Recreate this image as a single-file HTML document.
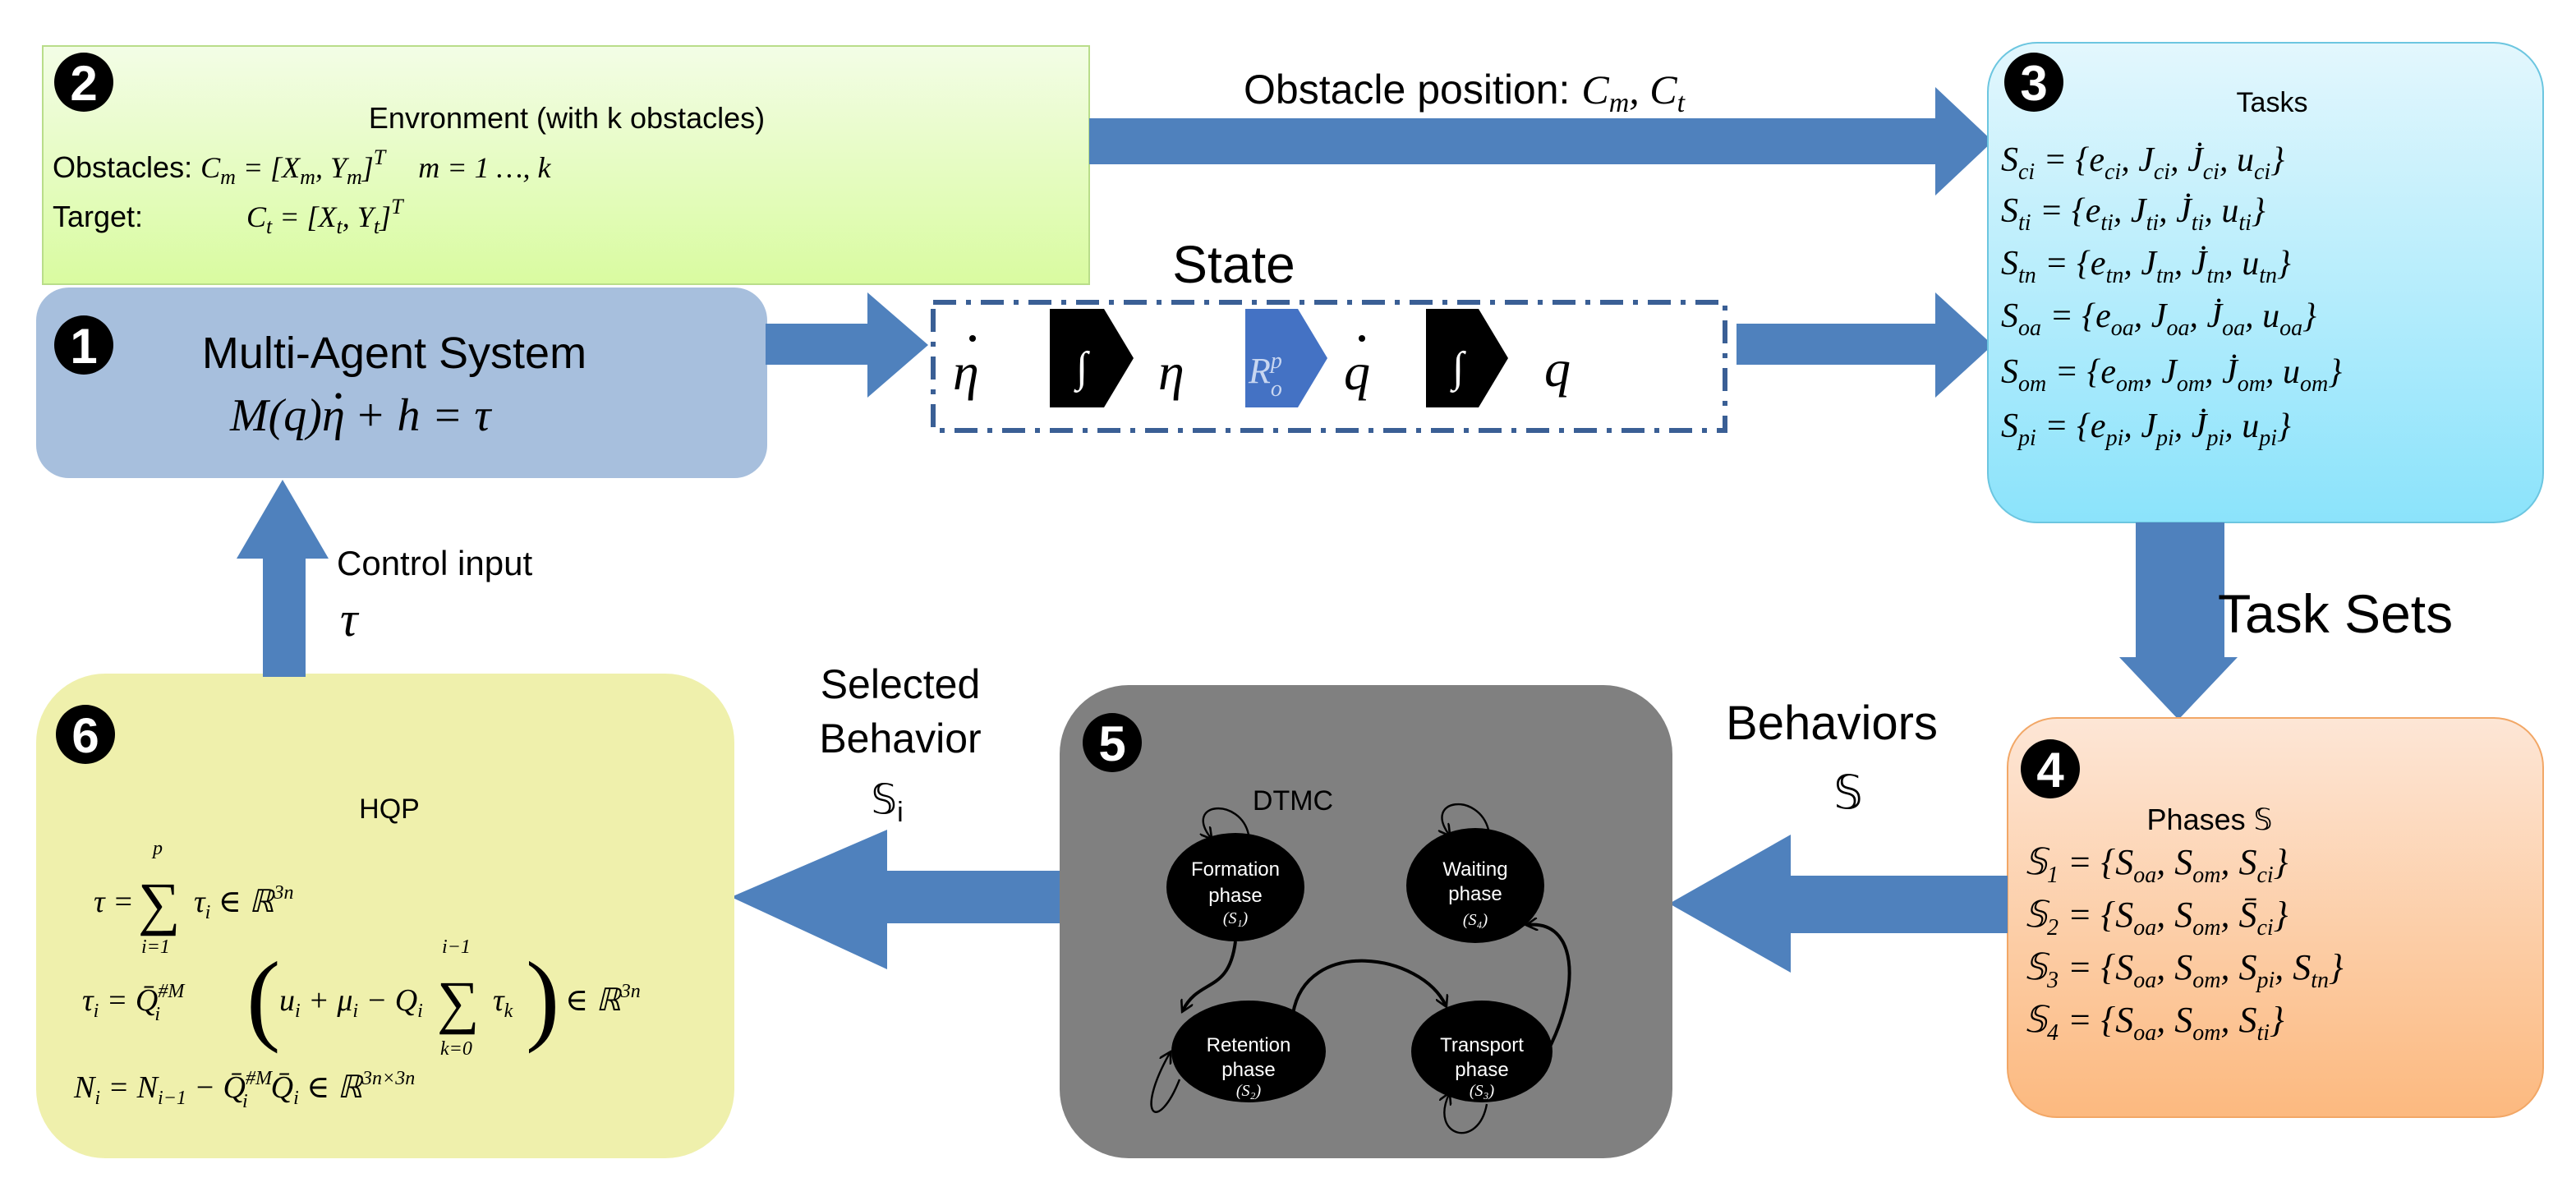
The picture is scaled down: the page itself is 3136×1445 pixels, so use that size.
<!DOCTYPE html>
<html><head><meta charset="utf-8"><style>
html,body{margin:0;padding:0;background:#fff;}
svg{display:block;}
.s{font-family:"Liberation Sans","DejaVu Sans",sans-serif;}
.m{font-family:"Liberation Serif","DejaVu Serif",serif;font-style:italic;}
.n{font-family:"Liberation Sans",sans-serif;font-weight:bold;fill:#fff;}
</style></head><body>
<svg width="3136" height="1445" viewBox="0 0 1568 722.5" xmlns="http://www.w3.org/2000/svg">
<defs>
<linearGradient id="g2" x1="0" y1="0" x2="0" y2="1"><stop offset="0" stop-color="#f3fde6"/><stop offset="1" stop-color="#d9fba0"/></linearGradient>
<linearGradient id="g3" x1="0" y1="0" x2="0" y2="1"><stop offset="0" stop-color="#e3f7fd"/><stop offset="1" stop-color="#8be3fb"/></linearGradient>
<linearGradient id="g4" x1="0" y1="0" x2="0" y2="1"><stop offset="0" stop-color="#fde6d6"/><stop offset="1" stop-color="#fcb97f"/></linearGradient>
<marker id="ah" markerWidth="8" markerHeight="8" refX="6" refY="4" orient="auto" markerUnits="userSpaceOnUse"><path d="M0,0 L7,4 L0,8" fill="none" stroke="#000" stroke-width="1.3"/></marker>
</defs>

<!-- Box 2 -->
<rect x="26" y="28" width="637" height="145" fill="url(#g2)" stroke="#b9dd8a" stroke-width="1"/>
<text x="345" y="78" class="s" font-size="18" text-anchor="middle">Envronment (with k obstacles)</text>
<text x="32" y="108" class="s" font-size="18">Obstacles: <tspan class="m">C<tspan font-size="13" dy="4">m</tspan><tspan dy="-4"> = [X</tspan><tspan font-size="13" dy="4">m</tspan><tspan dy="-4">, Y</tspan><tspan font-size="13" dy="4">m</tspan><tspan dy="-4">]</tspan><tspan font-size="13" dy="-8">T</tspan><tspan dy="8" dx="20">m = 1 …, k</tspan></tspan></text>
<text x="32" y="138" class="s" font-size="18">Target:<tspan class="m" x="150">C<tspan font-size="13" dy="4">t</tspan><tspan dy="-4"> = [X</tspan><tspan font-size="13" dy="4">t</tspan><tspan dy="-4">, Y</tspan><tspan font-size="13" dy="4">t</tspan><tspan dy="-4">]</tspan><tspan font-size="13" dy="-8">T</tspan></tspan></text>
<circle cx="51" cy="50" r="18"/><text x="51" y="61" class="n" font-size="30" text-anchor="middle">2</text>

<!-- Box 1 -->
<rect x="22" y="175" width="445" height="116" rx="20" fill="#a7bfdd"/>
<circle cx="51" cy="210" r="18"/><text x="51" y="221" class="n" font-size="30" text-anchor="middle">1</text>
<text x="240" y="224" class="s" font-size="27" text-anchor="middle">Multi-Agent System</text>
<text x="140" y="262" class="m" font-size="28">M(q)η<tspan dx="6">+ h = τ</tspan></text>
<circle cx="206" cy="241" r="1.8"/>

<!-- arrow 1 -> state -->
<polygon points="466,197 528,197 528,178 565,210 528,242 528,222 466,222" fill="#4f81bd"/>

<!-- State box -->
<rect x="568" y="184" width="482" height="78" fill="#fff" stroke="#3a5f95" stroke-width="3" stroke-dasharray="14,6,3,6"/>
<text x="751" y="172" class="s" font-size="32" text-anchor="middle">State</text>
<text x="580" y="237" class="m" font-size="32">η</text>
<circle cx="592" cy="206" r="2"/>
<polygon points="639,188 672,188 690,218 672,248 639,248" fill="#000"/>
<text x="655" y="232" class="m" font-size="26" fill="#fff">∫</text>
<text x="705" y="237" class="m" font-size="32">η</text>
<polygon points="758,188 790,188 808,218 790,248 758,248" fill="#4472c4"/>
<text x="760" y="233" class="m" font-size="22" fill="#c8d6f0">R<tspan font-size="14" dy="8">o</tspan><tspan font-size="14" dx="-7" dy="-17">p</tspan></text>
<text x="818" y="237" class="m" font-size="32">q</text>
<circle cx="829" cy="206" r="2"/>
<polygon points="868,188 900,188 918,218 900,248 868,248" fill="#000"/>
<text x="884" y="232" class="m" font-size="26" fill="#fff">∫</text>
<text x="940" y="235" class="m" font-size="32">q</text>

<!-- state -> box3 -->
<polygon points="1057,197 1178,197 1178,178 1213,210 1178,242 1178,222 1057,222" fill="#4f81bd"/>

<!-- top arrow box2 -> box3 -->
<polygon points="663,72 1178,72 1178,53 1213,86 1178,119 1178,100 663,100" fill="#4f81bd"/>
<text x="757" y="63" class="s" font-size="25">Obstacle position: <tspan class="m">C<tspan font-size="17" dy="5">m</tspan><tspan dy="-5">, C</tspan><tspan font-size="17" dy="5">t</tspan></tspan></text>

<!-- Box 3 -->
<rect x="1210" y="26" width="338" height="292" rx="30" fill="url(#g3)" stroke="#6cc6e0" stroke-width="1"/>
<circle cx="1238" cy="50" r="18"/><text x="1238" y="61" class="n" font-size="30" text-anchor="middle">3</text>
<text x="1383" y="68" class="s" font-size="17" text-anchor="middle">Tasks</text>
<g class="m" font-size="21">
<text x="1218" y="104">S<tspan font-size="14" dy="5">ci</tspan><tspan dy="-5"> = {e</tspan><tspan font-size="14" dy="5">ci</tspan><tspan dy="-5">, J</tspan><tspan font-size="14" dy="5">ci</tspan><tspan dy="-5">, J̇</tspan><tspan font-size="14" dy="5">ci</tspan><tspan dy="-5">, u</tspan><tspan font-size="14" dy="5">ci</tspan><tspan dy="-5">}</tspan></text>
<text x="1218" y="135">S<tspan font-size="14" dy="5">ti</tspan><tspan dy="-5"> = {e</tspan><tspan font-size="14" dy="5">ti</tspan><tspan dy="-5">, J</tspan><tspan font-size="14" dy="5">ti</tspan><tspan dy="-5">, J̇</tspan><tspan font-size="14" dy="5">ti</tspan><tspan dy="-5">, u</tspan><tspan font-size="14" dy="5">ti</tspan><tspan dy="-5">}</tspan></text>
<text x="1218" y="167">S<tspan font-size="14" dy="5">tn</tspan><tspan dy="-5"> = {e</tspan><tspan font-size="14" dy="5">tn</tspan><tspan dy="-5">, J</tspan><tspan font-size="14" dy="5">tn</tspan><tspan dy="-5">, J̇</tspan><tspan font-size="14" dy="5">tn</tspan><tspan dy="-5">, u</tspan><tspan font-size="14" dy="5">tn</tspan><tspan dy="-5">}</tspan></text>
<text x="1218" y="199">S<tspan font-size="14" dy="5">oa</tspan><tspan dy="-5"> = {e</tspan><tspan font-size="14" dy="5">oa</tspan><tspan dy="-5">, J</tspan><tspan font-size="14" dy="5">oa</tspan><tspan dy="-5">, J̇</tspan><tspan font-size="14" dy="5">oa</tspan><tspan dy="-5">, u</tspan><tspan font-size="14" dy="5">oa</tspan><tspan dy="-5">}</tspan></text>
<text x="1218" y="233">S<tspan font-size="14" dy="5">om</tspan><tspan dy="-5"> = {e</tspan><tspan font-size="14" dy="5">om</tspan><tspan dy="-5">, J</tspan><tspan font-size="14" dy="5">om</tspan><tspan dy="-5">, J̇</tspan><tspan font-size="14" dy="5">om</tspan><tspan dy="-5">, u</tspan><tspan font-size="14" dy="5">om</tspan><tspan dy="-5">}</tspan></text>
<text x="1218" y="266">S<tspan font-size="14" dy="5">pi</tspan><tspan dy="-5"> = {e</tspan><tspan font-size="14" dy="5">pi</tspan><tspan dy="-5">, J</tspan><tspan font-size="14" dy="5">pi</tspan><tspan dy="-5">, J̇</tspan><tspan font-size="14" dy="5">pi</tspan><tspan dy="-5">, u</tspan><tspan font-size="14" dy="5">pi</tspan><tspan dy="-5">}</tspan></text>
</g>

<!-- down arrow -->
<polygon points="1300,318 1354,318 1354,400 1362,400 1326,438 1290,400 1300,400" fill="#4f81bd"/>
<text x="1350" y="385" class="s" font-size="33">Task Sets</text>

<!-- Box 4 -->
<rect x="1222" y="437" width="326" height="243" rx="30" fill="url(#g4)" stroke="#f2a766" stroke-width="1"/>
<circle cx="1248" cy="468" r="18"/><text x="1248" y="479" class="n" font-size="30" text-anchor="middle">4</text>
<text x="1345" y="505" class="s" font-size="18" text-anchor="middle">Phases 𝕊</text>
<g class="m" font-size="22">
<text x="1232" y="532">𝕊<tspan font-size="14" dy="5">1</tspan><tspan dy="-5"> = {S</tspan><tspan font-size="14" dy="5">oa</tspan><tspan dy="-5">, S</tspan><tspan font-size="14" dy="5">om</tspan><tspan dy="-5">, S</tspan><tspan font-size="14" dy="5">ci</tspan><tspan dy="-5">}</tspan></text>
<text x="1232" y="564">𝕊<tspan font-size="14" dy="5">2</tspan><tspan dy="-5"> = {S</tspan><tspan font-size="14" dy="5">oa</tspan><tspan dy="-5">, S</tspan><tspan font-size="14" dy="5">om</tspan><tspan dy="-5">, S̄</tspan><tspan font-size="14" dy="5">ci</tspan><tspan dy="-5">}</tspan></text>
<text x="1232" y="596">𝕊<tspan font-size="14" dy="5">3</tspan><tspan dy="-5"> = {S</tspan><tspan font-size="14" dy="5">oa</tspan><tspan dy="-5">, S</tspan><tspan font-size="14" dy="5">om</tspan><tspan dy="-5">, S</tspan><tspan font-size="14" dy="5">pi</tspan><tspan dy="-5">, S</tspan><tspan font-size="14" dy="5">tn</tspan><tspan dy="-5">}</tspan></text>
<text x="1232" y="628">𝕊<tspan font-size="14" dy="5">4</tspan><tspan dy="-5"> = {S</tspan><tspan font-size="14" dy="5">oa</tspan><tspan dy="-5">, S</tspan><tspan font-size="14" dy="5">om</tspan><tspan dy="-5">, S</tspan><tspan font-size="14" dy="5">ti</tspan><tspan dy="-5">}</tspan></text>
</g>

<!-- arrow 4 -> 5 -->
<polygon points="1222,533 1090,533 1090,508 1016,550 1090,592 1090,568 1222,568" fill="#4f81bd"/>
<text x="1115" y="450" class="s" font-size="29" text-anchor="middle">Behaviors</text>
<text x="1125" y="492" class="s" font-size="28" text-anchor="middle">𝕊</text>

<!-- Box 5 -->
<rect x="645" y="417" width="373" height="288" rx="42" fill="#808080"/>
<circle cx="677" cy="452" r="18"/><text x="677" y="463" class="n" font-size="30" text-anchor="middle">5</text>
<text x="787" y="493" class="s" font-size="17" text-anchor="middle">DTMC</text>
<ellipse cx="752" cy="540" rx="42" ry="33"/>
<ellipse cx="898" cy="539" rx="42" ry="35"/>
<ellipse cx="760" cy="640" rx="47" ry="31"/>
<ellipse cx="902" cy="640" rx="43" ry="31"/>
<g class="s" font-size="12" fill="#fff" text-anchor="middle">
<text x="752" y="533">Formation</text><text x="752" y="549">phase</text><text x="752" y="562" class="m" font-size="10">(S₁)</text>
<text x="898" y="533">Waiting</text><text x="898" y="548">phase</text><text x="898" y="563" class="m" font-size="10">(S₄)</text>
<text x="760" y="640">Retention</text><text x="760" y="655">phase</text><text x="760" y="667" class="m" font-size="10">(S₂)</text>
<text x="902" y="640">Transport</text><text x="902" y="655">phase</text><text x="902" y="667" class="m" font-size="10">(S₃)</text>
</g>
<g fill="none" stroke="#000" stroke-width="1.2">
<path d="M760,508 C755,485 720,488 737,510" marker-end="url(#ah)"/>
<path d="M906,505 C900,482 866,486 882,508" marker-end="url(#ah)"/>
<path d="M718,657 C705,690 690,680 712,641" marker-end="url(#ah)"/>
<path d="M905,672 C900,700 870,692 882,666" marker-end="url(#ah)"/>
<path d="M752,573 C748,605 730,595 720,615" stroke-width="2" marker-end="url(#ah)"/>
<path d="M787,617 C795,570 865,580 880,612" stroke-width="2" marker-end="url(#ah)"/>
<path d="M943,638 C962,600 960,560 930,563" stroke-width="2" marker-end="url(#ah)"/>
</g>

<!-- arrow 5 -> 6 -->
<polygon points="645,530 540,530 540,505 445,546 540,590 540,562 645,562" fill="#4f81bd"/>
<g class="s" font-size="25" text-anchor="middle">
<text x="548" y="425">Selected</text><text x="548" y="458">Behavior</text>
<text x="540" y="495">𝕊<tspan font-size="17" dy="5">i</tspan></text>
</g>

<!-- Box 6 -->
<rect x="22" y="410" width="425" height="295" rx="42" fill="#eff0ac"/>
<circle cx="52" cy="447" r="18"/><text x="52" y="458" class="n" font-size="30" text-anchor="middle">6</text>
<text x="237" y="498" class="s" font-size="17" text-anchor="middle">HQP</text>
<g class="m" font-size="19">
<text x="57" y="555">τ =</text>
<text x="84" y="562" font-style="normal" font-size="36">∑</text>
<text x="93" y="520" font-size="12">p</text>
<text x="86" y="580" font-size="12">i=1</text>
<text x="118" y="555">τ<tspan font-size="12" dy="4">i</tspan><tspan dy="-4"> ∈ ℝ</tspan><tspan font-size="12" dy="-8">3n</tspan></text>

<text x="50" y="615">τ<tspan font-size="12" dy="4">i</tspan><tspan dy="-4"> = Q̄</tspan><tspan font-size="12" dy="-8">#M</tspan><tspan font-size="12" dx="-18" dy="14">i</tspan></text>
<text x="150" y="628" font-style="normal" font-size="62">(</text>
<text x="170" y="615">u<tspan font-size="12" dy="4">i</tspan><tspan dy="-4"> + μ</tspan><tspan font-size="12" dy="4">i</tspan><tspan dy="-4"> − Q</tspan><tspan font-size="12" dy="4">i</tspan></text>
<text x="266" y="622" font-style="normal" font-size="36">∑</text>
<text x="269" y="580" font-size="12">i−1</text>
<text x="268" y="642" font-size="12">k=0</text>
<text x="300" y="615">τ<tspan font-size="12" dy="4">k</tspan></text>
<text x="320" y="628" font-style="normal" font-size="62">)</text>
<text x="344" y="615">∈ ℝ<tspan font-size="12" dy="-8">3n</tspan></text>

<text x="45" y="668">N<tspan font-size="12" dy="4">i</tspan><tspan dy="-4"> = N</tspan><tspan font-size="12" dy="4">i−1</tspan><tspan dy="-4"> − Q̄</tspan><tspan font-size="12" dy="-8">#M</tspan><tspan font-size="12" dx="-18" dy="14">i</tspan><tspan dx="14" dy="-6">Q̄</tspan><tspan font-size="12" dy="4">i</tspan><tspan dy="-4"> ∈ ℝ</tspan><tspan font-size="12" dy="-8">3n×3n</tspan></text>
</g>

<!-- up arrow 6 -> 1 -->
<polygon points="160,412 160,340 144,340 172,292 200,340 186,340 186,412" fill="#4f81bd"/>
<text x="205" y="350" class="s" font-size="21">Control input</text>
<text x="207" y="387" class="m" font-size="30">τ</text>
</svg>
</body></html>
